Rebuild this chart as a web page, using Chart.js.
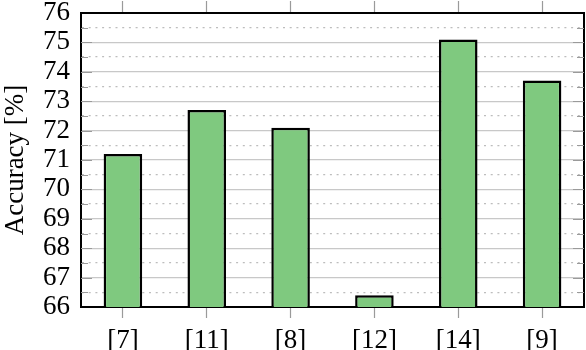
<!DOCTYPE html>
<html>
<head>
<meta charset="utf-8">
<script src="https://cdn.jsdelivr.net/npm/chart.js@4.4.0/dist/chart.umd.min.js"></script>
<style>
  html, body { margin: 0; padding: 0; background: #fff; }
  #wrap { width: 586px; height: 350px; }
</style>
</head>
<body>
<div id="wrap"><canvas id="accChart" width="586" height="350"></canvas></div>
<script>
var categories = ['[7]', '[11]', '[8]', '[12]', '[14]', '[9]'];
var accuracy = [71.2, 72.7, 72.1, 66.4, 75.1, 73.7];
var yMin = 66, yMax = 76;

// short inner tick marks on the left and right edges (pgfplots style)
var innerTicks = {
    id: 'innerTicks',
    afterDatasetsDraw: function (chart) {
        var ctx = chart.ctx, y = chart.scales.y, area = chart.chartArea;
        ctx.save();
        ctx.strokeStyle = '#9a9a9a';
        ctx.lineWidth = 1.2;
        y.ticks.forEach(function (t) {
            if (t.value <= yMin || t.value >= yMax) return;
            var py = Math.round(y.getPixelForValue(t.value)) + 0.5;
            var len = (t.value % 1 === 0) ? 11 : 7;
            ctx.beginPath();
            ctx.moveTo(area.left, py); ctx.lineTo(area.left + len, py);
            ctx.moveTo(area.right, py); ctx.lineTo(area.right - len, py);
            ctx.stroke();
        });
        ctx.restore();
    }
};

var font = { family: "'Liberation Serif', 'DejaVu Serif', serif", size: 27 };

document.addEventListener('DOMContentLoaded', function () {
    var ctx = document.getElementById('accChart').getContext('2d');
    new Chart(ctx, {
        type: 'bar',
        data: {
            labels: categories,
            datasets: [{
                label: 'Accuracy',
                data: accuracy,
                backgroundColor: '#7fc97f',
                borderColor: '#000',
                borderWidth: 2.5,
                borderSkipped: false,
                barPercentage: 0.46,
                categoryPercentage: 1
            }]
        },
        plugins: [innerTicks],
        options: {
            responsive: false,
            animation: false,
            layout: { padding: 0 },
            plugins: {
                legend: { display: false },
                tooltip: { enabled: false }
            },
            scales: {
                x: {
                    position: 'bottom',
                    offset: true,
                    grid: { offset: false, drawOnChartArea: false, tickLength: 11, tickColor: '#9a9a9a', tickWidth: 1.2 },
                    border: { color: '#000', width: 2 },
                    ticks: { color: '#000', font: font, padding: 7, maxRotation: 0 },
                    afterFit: function (s) { s.height = 43; }
                },
                x2: {
                    type: 'category',
                    labels: categories,
                    position: 'top',
                    offset: true,
                    grid: { offset: false, drawOnChartArea: false, tickLength: 12, tickColor: '#9a9a9a', tickWidth: 1.2 },
                    border: { color: '#000', width: 2 },
                    ticks: { display: false },
                    afterFit: function (s) { s.height = 13; }
                },
                y: {
                    min: yMin,
                    max: yMax,
                    grid: {
                        drawTicks: false,
                        color: function (c) { return c.tick.value % 1 === 0 ? '#c8c8c8' : '#bdbdbd'; },
                        lineWidth: function (c) { return (c.tick.value === yMin || c.tick.value === yMax) ? 0 : 1.3; }
                    },
                    border: {
                        color: '#000',
                        width: 2,
                        dash: function (c) { return c.tick && c.tick.value % 1 !== 0 ? [2, 4.7] : []; }
                    },
                    ticks: {
                        stepSize: 0.5,
                        autoSkip: false,
                        color: '#000',
                        font: { family: font.family, size: 27, lineHeight: 0.05 },
                        padding: 11,
                        callback: function (v) { return v % 1 === 0 ? String(v) : ''; }
                    },
                    title: {
                        display: true,
                        text: 'Accuracy [%]',
                        color: '#000',
                        font: font,
                        padding: { top: 0, bottom: 6 }
                    },
                    afterFit: function (s) { s.width = 81; }
                },
                y2: {
                    position: 'right',
                    min: yMin,
                    max: yMax,
                    grid: { drawOnChartArea: false, drawTicks: false },
                    border: { color: '#000', width: 2 },
                    ticks: { display: false },
                    afterFit: function (s) { s.width = 2; }
                }
            }
        }
    });
});
</script>
</body>
</html>
